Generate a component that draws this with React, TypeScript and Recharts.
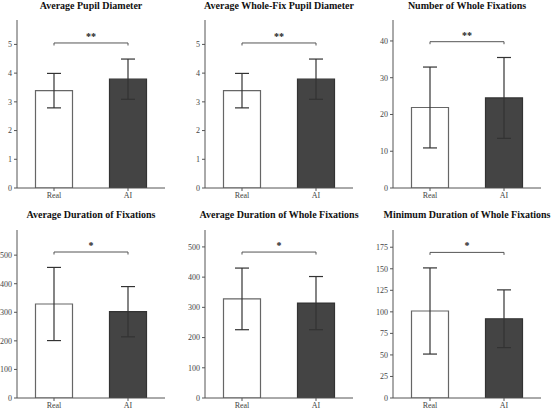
import React from 'react';
import {
  BarChart,
  Bar,
  Cell,
  XAxis,
  YAxis,
  ErrorBar,
  ReferenceLine,
} from 'recharts';

const categories = ['Real', 'AI'];

const titles = [
  'Average Pupil Diameter',
  'Average Whole-Fix Pupil Diameter',
  'Number of Whole Fixations',
  'Average Duration of Fixations',
  'Average Duration of Whole Fixations',
  'Minimum Duration of Whole Fixations',
];

const realMeans = [3.39, 3.39, 21.9, 329, 328, 101];
const aiMeans = [3.79, 3.79, 24.5, 302, 314, 92];
const realErr = [0.6, 0.6, 11, 128, 102, 50];
const aiErr = [0.7, 0.7, 11, 88, 88, 33.5];

const yMax = [5.85, 5.85, 45.7, 588, 556, 195];
const bracketY = [5.05, 5.05, 39.8, 511, 483, 169];
const stars = ['**', '**', '**', '*', '*', '*'];

const yTicks = [
  [0, 1, 2, 3, 4, 5],
  [0, 1, 2, 3, 4, 5],
  [0, 10, 20, 30, 40],
  [0, 100, 200, 300, 400, 500],
  [0, 100, 200, 300, 400, 500],
  [0, 25, 50, 75, 100, 125, 150, 175],
];

const barColors = [
  { fill: '#ffffff', stroke: '#666666' },
  { fill: '#444444', stroke: '#333333' },
];

const FONT = '"Liberation Serif", "Times New Roman", serif';
const PANEL_W = 188;
const PANEL_H = 205;

const Panel: React.FC<{ i: number }> = ({ i }) => {
  const row = Math.floor(i / 3);
  const col = i % 3;
  const data = categories.map((c, k) => ({
    name: c,
    mean: k === 0 ? realMeans[i] : aiMeans[i],
    err: k === 0 ? realErr[i] : aiErr[i],
  }));
  const top = row === 0 ? 20 : 25;
  const xH = row === 0 ? 17 : 12;
  const drop = yMax[i] * 0.015;
  const tick = { fontSize: 8, fill: '#444', fontFamily: FONT };

  return (
    <div
      style={{
        position: 'absolute',
        left: col * PANEL_W,
        top: row * PANEL_H,
        width: PANEL_W,
        height: PANEL_H,
      }}
    >
      <div
        style={{
          position: 'absolute',
          left: 17 - 20,
          width: 148 + 40,
          top: row === 0 ? 0 : 4,
          textAlign: 'center',
          fontFamily: FONT,
          fontWeight: 'bold',
          fontSize: 10,
          lineHeight: '12px',
          color: '#111',
          whiteSpace: 'nowrap',
        }}
      >
        {titles[i]}
      </div>
      <BarChart
        width={PANEL_W}
        height={PANEL_H}
        data={data}
        margin={{ top, right: 23, left: 0, bottom: 0 }}
        barCategoryGap="25%"
        style={{ overflow: 'visible' }}
      >
        <XAxis
          dataKey="name"
          height={xH}
          tick={tick}
          tickSize={3}
          tickMargin={1}
          axisLine={{ stroke: '#555' }}
          tickLine={{ stroke: '#555' }}
        />
        <YAxis
          width={17}
          domain={[0, yMax[i]]}
          ticks={yTicks[i]}
          allowDataOverflow
          tick={tick}
          tickSize={3}
          tickMargin={2}
          axisLine={{ stroke: '#555' }}
          tickLine={{ stroke: '#555' }}
        />
        <Bar dataKey="mean" isAnimationActive={false} strokeWidth={1.2}>
          {data.map((d, k) => (
            <Cell key={d.name} fill={barColors[k].fill} stroke={barColors[k].stroke} />
          ))}
          <ErrorBar
            dataKey="err"
            direction="y"
            width={7}
            stroke="#333"
            strokeWidth={1.2}
            isAnimationActive={false}
          />
        </Bar>
        <ReferenceLine
          segment={[
            { x: 'Real', y: bracketY[i] },
            { x: 'AI', y: bracketY[i] },
          ]}
          stroke="#555"
          strokeWidth={1}
          ifOverflow="visible"
          label={{
            value: stars[i],
            position: 'top',
            offset: 3,
            fill: '#222',
            fontSize: 10,
            fontWeight: 'bold',
            fontFamily: FONT,
          }}
        />
        <ReferenceLine
          segment={[
            { x: 'Real', y: bracketY[i] },
            { x: 'Real', y: bracketY[i] - drop },
          ]}
          stroke="#555"
          strokeWidth={1}
          ifOverflow="visible"
        />
        <ReferenceLine
          segment={[
            { x: 'AI', y: bracketY[i] },
            { x: 'AI', y: bracketY[i] - drop },
          ]}
          stroke="#555"
          strokeWidth={1}
          ifOverflow="visible"
        />
      </BarChart>
    </div>
  );
};

const App: React.FC = () => {
  return (
    <div
      style={{
        position: 'absolute',
        left: 0,
        top: 0,
        width: 553,
        height: 410,
        background: '#fff',
      }}
    >
      {titles.map((t, i) => (
        <Panel key={t} i={i} />
      ))}
    </div>
  );
};

export default App;
